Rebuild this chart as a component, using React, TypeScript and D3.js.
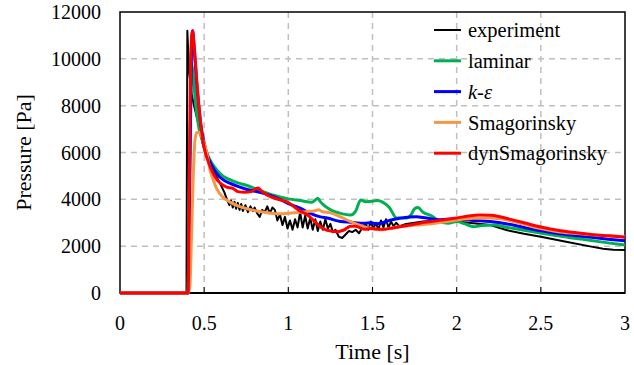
import { useEffect, useRef } from 'react'
import * as d3 from 'd3'

type Pt = [number, number]

// time [s], pressure [Pa]
const experiment: Pt[] = [
  [0, 0], [0.395, 0], [0.4, 11200], [0.41, 9500], [0.425, 8500], [0.44, 8000], [0.47, 7100],
  [0.49, 6400], [0.515, 5800], [0.545, 5300], [0.575, 4950], [0.6, 4600], [0.62, 4300],
  [0.635, 4000], [0.65, 3750], [0.66, 3950], [0.67, 3650], [0.68, 3900], [0.69, 3600],
  [0.7, 3850], [0.71, 3550], [0.72, 3800], [0.73, 3500], [0.745, 3750], [0.76, 3450],
  [0.775, 3700], [0.79, 3500], [0.8, 3650], [0.815, 3400], [0.83, 3250], [0.845, 3550],
  [0.86, 3450], [0.875, 3700], [0.89, 3400], [0.905, 3650], [0.92, 3550], [0.935, 3100],
  [0.95, 3350], [0.965, 2900], [0.98, 3250], [0.995, 2750], [1.01, 3100], [1.025, 2700],
  [1.04, 3150], [1.055, 2800], [1.07, 3450], [1.085, 2800], [1.1, 3300], [1.115, 2750],
  [1.13, 3200], [1.145, 2700], [1.16, 3150], [1.175, 2650], [1.19, 3050], [1.205, 2700],
  [1.22, 3150], [1.235, 2750], [1.25, 2950], [1.265, 2600], [1.28, 2700], [1.3, 2400],
  [1.32, 2350], [1.34, 2500], [1.36, 2650], [1.38, 2600], [1.4, 2700], [1.42, 2550],
  [1.44, 2800], [1.46, 2950], [1.475, 2700], [1.49, 3050], [1.505, 2750], [1.52, 3000],
  [1.535, 2700], [1.55, 3100], [1.565, 2800], [1.58, 3150], [1.595, 2800], [1.61, 3050],
  [1.625, 2850], [1.64, 3000], [1.66, 2850], [1.7, 2950], [1.75, 3000], [1.8, 3050],
  [1.85, 3080], [1.9, 3100], [1.95, 3070], [2.0, 3050], [2.1, 2980], [2.2, 2900],
  [2.3, 2680], [2.4, 2530], [2.5, 2400], [2.65, 2190], [2.8, 1980], [2.87, 1890],
  [2.93, 1850], [3.0, 1840],
]

const laminar: Pt[] = [
  [0, 0], [0.402, 0], [0.415, 6000], [0.425, 9800], [0.435, 9300], [0.45, 8000], [0.47, 7000],
  [0.49, 6500], [0.515, 6000], [0.545, 5550], [0.575, 5250], [0.61, 5000], [0.65, 4850],
  [0.7, 4700], [0.75, 4600], [0.8, 4470], [0.85, 4330], [0.9, 4200], [0.95, 4100],
  [1.0, 4020], [1.07, 3950], [1.14, 3880], [1.16, 3970], [1.175, 4050], [1.19, 3900],
  [1.22, 3700], [1.26, 3520], [1.3, 3420], [1.37, 3330], [1.4, 3500], [1.43, 3970],
  [1.46, 3900], [1.5, 3920], [1.53, 3950], [1.56, 3880], [1.6, 3650], [1.644, 3200],
  [1.7, 3200], [1.73, 3350], [1.75, 3600], [1.77, 3650], [1.8, 3450], [1.85, 3300],
  [1.9, 3050], [1.95, 2980], [2.0, 3050], [2.05, 2950], [2.1, 2830], [2.15, 2880],
  [2.22, 2900], [2.3, 2800], [2.4, 2680], [2.5, 2560], [2.6, 2440], [2.7, 2340],
  [2.8, 2240], [2.9, 2140], [3.0, 2050],
]

const kEpsilon: Pt[] = [
  [0, 0], [0.405, 0], [0.415, 5000], [0.425, 10500], [0.432, 11200], [0.44, 10500],
  [0.46, 8600], [0.48, 7200], [0.5, 6400], [0.515, 5950], [0.545, 5450], [0.575, 5100],
  [0.61, 4850], [0.655, 4680], [0.7, 4550], [0.75, 4430], [0.83, 4300], [0.9, 4150],
  [0.95, 4000], [1.0, 3820], [1.07, 3620], [1.13, 3400], [1.19, 3250], [1.23, 3200],
  [1.31, 3050], [1.37, 3020], [1.45, 2980], [1.49, 3000], [1.52, 2960], [1.56, 3000],
  [1.6, 3100], [1.66, 3190], [1.72, 3250], [1.76, 3260], [1.82, 3200], [1.9, 3130],
  [2.0, 3160], [2.1, 3100], [2.2, 3050], [2.3, 2950], [2.4, 2800], [2.5, 2660],
  [2.6, 2540], [2.7, 2450], [2.8, 2380], [2.9, 2300], [3.0, 2230],
]

const smagorinsky: Pt[] = [
  [0, 0], [0.405, 0], [0.415, 300], [0.425, 2500], [0.435, 5000], [0.445, 6500],
  [0.455, 6850], [0.47, 6850], [0.485, 6700], [0.5, 6400], [0.515, 6000], [0.535, 5250],
  [0.555, 4800], [0.575, 4450], [0.61, 4100], [0.654, 3880], [0.7, 3720], [0.753, 3600],
  [0.83, 3480], [0.95, 3380], [1.02, 3420], [1.07, 3450], [1.11, 3480], [1.15, 3500],
  [1.18, 3550], [1.2, 3480], [1.25, 3420], [1.31, 3250], [1.37, 3050], [1.43, 2880],
  [1.485, 2770], [1.545, 2700], [1.6, 2760], [1.66, 2830], [1.75, 2900], [1.86, 2970],
  [2.0, 3120], [2.1, 3190], [2.2, 3200], [2.3, 3120], [2.4, 2930], [2.5, 2750],
  [2.6, 2620], [2.7, 2550], [2.8, 2490], [2.9, 2440], [3.0, 2400],
]

const dynSmagorinsky: Pt[] = [
  [0, 0], [0.405, 0], [0.412, 5000], [0.42, 10000], [0.43, 11200], [0.44, 10600],
  [0.46, 8700], [0.48, 7200], [0.5, 6200], [0.525, 5600], [0.554, 5100], [0.58, 4800],
  [0.604, 4650], [0.634, 4520], [0.67, 4470], [0.7, 4330], [0.74, 4300], [0.78, 4330],
  [0.8, 4420], [0.82, 4480], [0.84, 4350], [0.87, 4200], [0.9, 4100], [0.95, 3980],
  [0.99, 3900], [1.04, 3650], [1.07, 3500], [1.11, 3350], [1.15, 3100], [1.19, 2830],
  [1.23, 2680], [1.29, 2620], [1.33, 2690], [1.37, 2850], [1.4, 2850], [1.45, 2720],
  [1.49, 2750], [1.56, 2720], [1.62, 2780], [1.66, 2830], [1.72, 2900], [1.78, 2980],
  [1.85, 3050], [1.92, 3120], [2.0, 3200], [2.07, 3290], [2.14, 3330], [2.2, 3320],
  [2.25, 3270], [2.3, 3180], [2.4, 3000], [2.5, 2820], [2.6, 2680], [2.7, 2580],
  [2.8, 2500], [2.9, 2440], [3.0, 2380],
]

const xTicks = [0, 0.5, 1, 1.5, 2, 2.5, 3]
const yTicks = [0, 2000, 4000, 6000, 8000, 10000, 12000]

const series = [
  { name: 'experiment', data: experiment, color: '#000000', width: 2, smooth: false },
  { name: 'laminar', data: laminar, color: '#00b050', width: 3, smooth: true },
  { name: 'k-ε', data: kEpsilon, color: '#0000ff', width: 3, smooth: true },
  { name: 'Smagorinsky', data: smagorinsky, color: '#f79646', width: 3, smooth: true },
  { name: 'dynSmagorinsky', data: dynSmagorinsky, color: '#ff0000', width: 3, smooth: true },
]

const width = 634
const height = 365
const font = 'Liberation Serif'

export default function App() {
  const svgRef = useRef<SVGSVGElement>(null)

  useEffect(() => {
    if (!svgRef.current) return
    const svg = d3.select(svgRef.current)
    svg.selectAll('*').remove()

    const margin = { top: 12, right: 9, bottom: 72, left: 120 }
    const x = d3.scaleLinear().domain([0, 3]).range([margin.left, width - margin.right])
    const y = d3.scaleLinear().domain([0, 12000]).range([height - margin.bottom, margin.top])

    // grid
    svg
      .append('g')
      .selectAll('line')
      .data(yTicks.slice(1, -1))
      .enter()
      .append('line')
      .attr('x1', x(0))
      .attr('x2', x(3))
      .attr('y1', (d) => y(d))
      .attr('y2', (d) => y(d))
      .attr('stroke', '#bfbfbf')
      .attr('stroke-width', 1.5)
      .attr('stroke-dasharray', '6,5')

    svg
      .append('g')
      .selectAll('line')
      .data(xTicks.slice(1, -1))
      .enter()
      .append('line')
      .attr('x1', (d) => x(d))
      .attr('x2', (d) => x(d))
      .attr('y1', y(0))
      .attr('y2', y(12000))
      .attr('stroke', '#bfbfbf')
      .attr('stroke-width', 1.5)
      .attr('stroke-dasharray', '6,5')

    // tick marks (inside)
    svg
      .append('g')
      .selectAll('line')
      .data(xTicks.slice(1, -1))
      .enter()
      .append('line')
      .attr('x1', (d) => x(d))
      .attr('x2', (d) => x(d))
      .attr('y1', y(0))
      .attr('y2', y(0) - 6)
      .attr('stroke', '#000')
      .attr('stroke-width', 1)

    // plot frame
    svg
      .append('rect')
      .attr('x', x(0))
      .attr('y', y(12000))
      .attr('width', x(3) - x(0))
      .attr('height', y(0) - y(12000))
      .attr('fill', 'none')
      .attr('stroke', '#000')
      .attr('stroke-width', 1.5)

    svg
      .append('line')
      .attr('x1', x(0))
      .attr('x2', x(3))
      .attr('y1', y(0))
      .attr('y2', y(0))
      .attr('stroke', '#000')
      .attr('stroke-width', 2)

    // series
    series.forEach((s) => {
      const line = d3
        .line<Pt>()
        .x((d) => x(d[0]))
        .y((d) => y(d[1]))
        .curve(s.smooth ? d3.curveMonotoneX : d3.curveLinear)
      svg
        .append('path')
        .datum(s.data)
        .attr('fill', 'none')
        .attr('stroke', s.color)
        .attr('stroke-width', s.width)
        .attr('stroke-linejoin', 'round')
        .attr('d', line)
    })

    const txt = (sel: d3.Selection<SVGTextElement, any, any, any>, size: number) =>
      sel.style('font-family', font).style('font-size', `${size}px`).attr('fill', '#000')

    // tick labels
    svg
      .append('g')
      .selectAll('text')
      .data(yTicks)
      .enter()
      .append('text')
      .attr('x', x(0) - 19)
      .attr('y', (d) => y(d))
      .attr('dy', '0.35em')
      .attr('text-anchor', 'end')
      .call(txt, 20)
      .text((d) => d)

    svg
      .append('g')
      .selectAll('text')
      .data(xTicks)
      .enter()
      .append('text')
      .attr('x', (d) => x(d))
      .attr('y', 330)
      .attr('text-anchor', 'middle')
      .call(txt, 20)
      .text((d) => d)

    // axis titles
    svg
      .append('text')
      .attr('x', (x(0) + x(3)) / 2)
      .attr('y', 359)
      .attr('text-anchor', 'middle')
      .call(txt, 22)
      .text('Time [s]')

    svg
      .append('text')
      .attr('transform', `translate(31, ${(y(0) + y(12000)) / 2}) rotate(-90)`)
      .attr('text-anchor', 'middle')
      .call(txt, 22)
      .text('Pressure [Pa]')

    // legend
    const legend = svg.append('g').attr('transform', 'translate(434, 30)')
    series.forEach((s, i) => {
      const row = legend.append('g').attr('transform', `translate(0, ${i * 30.8})`)
      row
        .append('line')
        .attr('x1', 0)
        .attr('x2', 27)
        .attr('stroke', s.color)
        .attr('stroke-width', s.width)
      row
        .append('text')
        .attr('x', 34)
        .attr('dy', '0.35em')
        .call(txt, 20.5)
        .style('font-style', s.name === 'k-ε' ? 'italic' : 'normal')
        .text(s.name)
    })
  }, [])

  return (
    <svg
      ref={svgRef}
      width={width}
      height={height}
      style={{ position: 'absolute', left: 0, top: 0, background: '#fff' }}
    />
  )
}
